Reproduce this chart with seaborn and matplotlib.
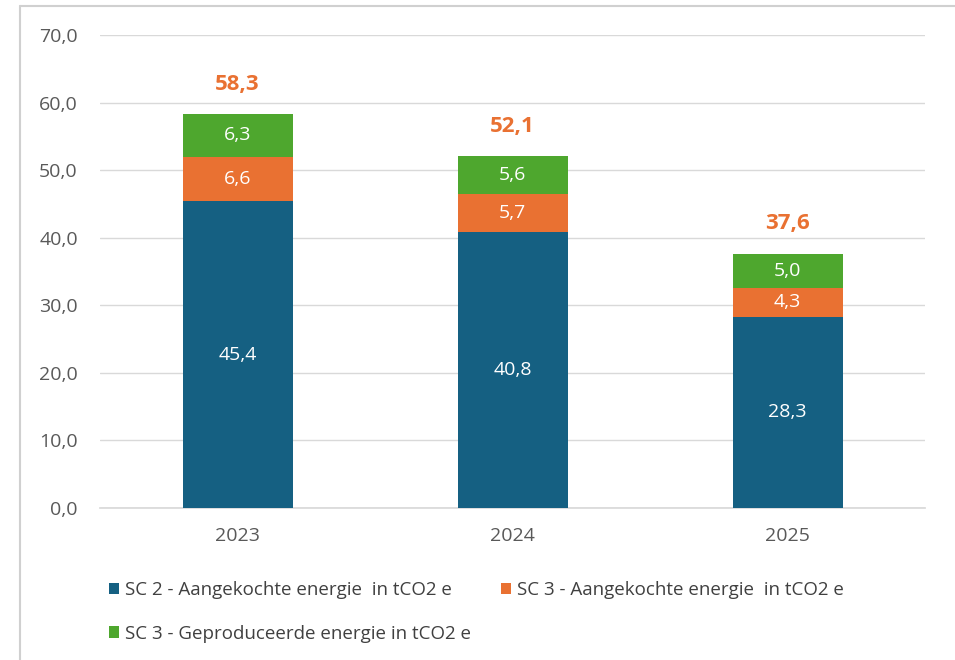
import matplotlib
matplotlib.use("Agg")
import matplotlib.pyplot as plt
import seaborn as sns
import pandas as pd
from matplotlib.patches import Patch

years = ["2023", "2024", "2025"]
sc2_aangekocht = [45.4, 40.8, 28.3]
sc3_aangekocht = [6.6, 5.7, 4.3]
sc3_geproduceerd = [6.3, 5.6, 5.0]
totals = [58.3, 52.1, 37.6]
series_names = [
    "SC 2 - Aangekochte energie  in tCO2 e",
    "SC 3 - Aangekochte energie  in tCO2 e",
    "SC 3 - Geproduceerde energie in tCO2 e",
]
colors = ["#156082", "#E97132", "#4EA72E"]

sns.set_theme(style="white")
plt.rcParams["font.family"] = ["Open Sans", "DejaVu Sans"]

fig = plt.figure(figsize=(9.55, 6.6), dpi=100)
ax = fig.add_axes([100 / 955, 1 - 508 / 660, 825 / 955, (508 - 35) / 660])

# figure border (top and left lines visible)
fig.add_artist(plt.Line2D([20 / 955, 1.0], [1 - 6 / 660, 1 - 6 / 660], transform=fig.transFigure,
                          color="#d0d0d0", lw=1.5))
fig.add_artist(plt.Line2D([20 / 955, 20 / 955], [0, 1 - 6 / 660], transform=fig.transFigure,
                          color="#d0d0d0", lw=1.5))

bottoms = [0.0] * len(years)
layers = [sc2_aangekocht, sc3_aangekocht, sc3_geproduceerd]
for vals, col, name in zip(layers, colors, series_names):
    d = pd.DataFrame({"year": years, "v": vals})
    sns.barplot(data=d, x="year", y="v", color=col, width=0.4, bottom=bottoms,
                ax=ax, saturation=1, zorder=3, linewidth=0, edgecolor="none")
    for i, v in enumerate(vals):
        ax.text(i, bottoms[i] + v / 2, f"{v:.1f}".replace(".", ","), ha="center", va="center",
                color="white", fontsize=14, zorder=4)
    bottoms = [b + v for b, v in zip(bottoms, vals)]

for i, t in enumerate(totals):
    ax.annotate(f"{t:.1f}".replace(".", ","), (i, t), xytext=(0, 14), textcoords="offset points",
                ha="center", va="bottom", color="#E97132", fontsize=16, fontweight="bold")

ax.set_ylim(0, 70)
ax.set_xlim(-0.5, 2.5)
ax.set_yticks(range(0, 71, 10))
ax.set_yticklabels([f"{v:.1f}".replace(".", ",") for v in range(0, 71, 10)])
ax.yaxis.grid(True, color="#d9d9d9", lw=1)
ax.set_axisbelow(True)
ax.set_xlabel("")
ax.set_ylabel("")
for s in ax.spines.values():
    s.set_visible(False)
ax.spines["bottom"].set_visible(True)
ax.spines["bottom"].set_color("#d9d9d9")
ax.tick_params(axis="y", colors="#595959", labelsize=14, length=0, pad=16)
ax.tick_params(axis="x", colors="#595959", labelsize=14, length=0, pad=14)

handles = [Patch(facecolor=c, edgecolor="none") for c in colors]
order = [0, 2, 1]
fig.legend([handles[k] for k in order], [series_names[k] for k in order], loc="upper left",
           bbox_to_anchor=(92 / 955, 1 - 564 / 660),
           ncol=2, frameon=False, fontsize=13.5, handlelength=0.55, handleheight=0.55,
           handletextpad=0.3, columnspacing=1.6, labelspacing=1.37, labelcolor="#404040")

fig.savefig("out.png", dpi=100, facecolor="white")
